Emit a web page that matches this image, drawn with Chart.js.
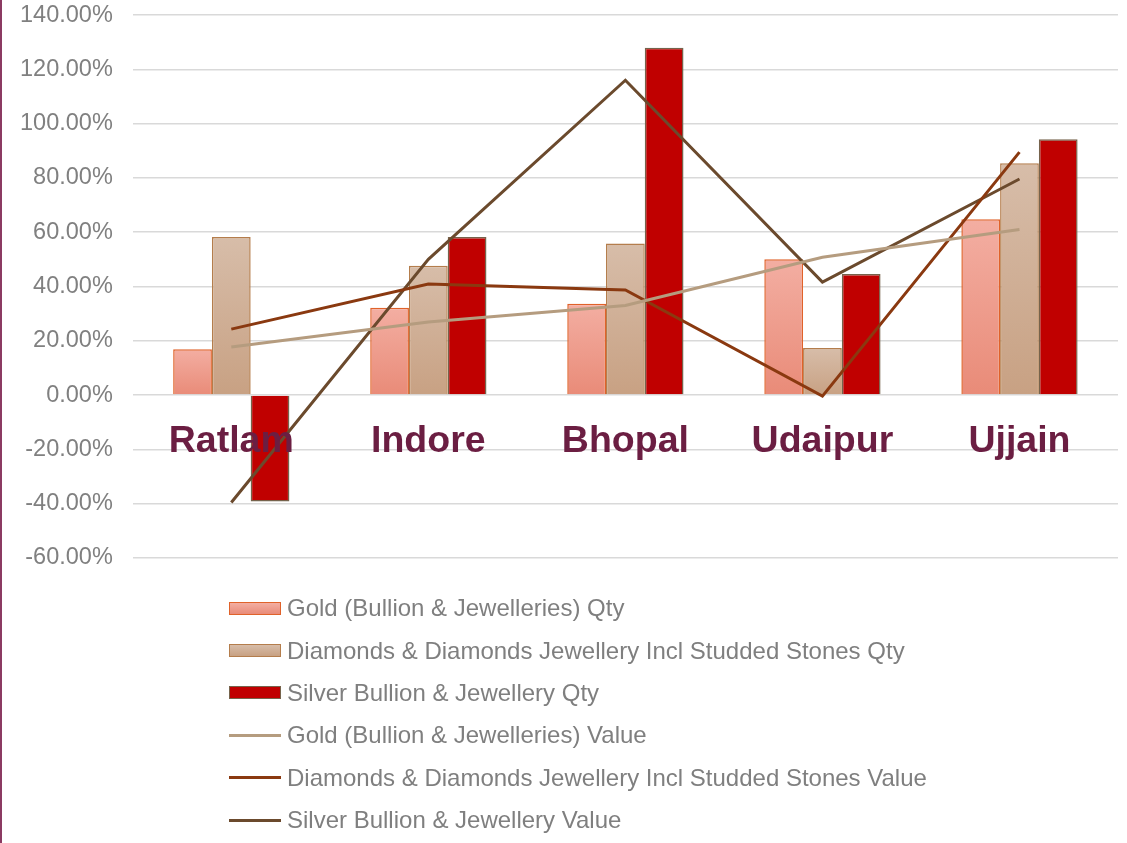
<!DOCTYPE html>
<html>
<head>
<meta charset="utf-8">
<script src="https://cdn.jsdelivr.net/npm/chart.js@4"></script>
<style>
  html, body { margin: 0; padding: 0; background: #fff; }
  body { width: 1127px; height: 843px; position: relative; overflow: hidden; font-family: "Liberation Sans", Arial, sans-serif; }
  .edge { position: absolute; left: 0; top: 0; width: 2px; height: 843px; background: #8B3A62; z-index: 2; }
  #wrap { position: absolute; left: 0; top: -19px; width: 1127px; height: 611px; }
  #legend { position: absolute; left: 229px; top: 587px; }
  .item { height: 42.4px; display: flex; align-items: center; color: #7f7f7f; font-size: 24px; white-space: nowrap; }
  .item .sw { width: 52px; margin-right: 6px; box-sizing: border-box; }
</style>
</head>
<body>
<div class="edge"></div>
<div id="wrap"><canvas id="grafico"></canvas></div>
<div id="legend"></div>
<script>
const cidades = ['Ratlam', 'Indore', 'Bhopal', 'Udaipur', 'Ujjain'];
const ticksY = [-60, -40, -20, 0, 20, 40, 60, 80, 100, 120, 140];

const ouroQtd = [16.9, 32.2, 33.6, 50.0, 64.8];
const diamanteQtd = [58.2, 47.6, 55.8, 17.3, 85.4];
const prataQtd = [-39.2, 58.2, 128.0, 44.6, 94.3];
const ouroValor = [17.7, 26.9, 33.0, 50.8, 61.0];
const diamanteValor = [24.3, 40.9, 38.7, -0.4, 89.5];
const prataValor = [-39.6, 50.0, 116.0, 41.6, 79.6];

// gradiente vertical por barra (claro em cima, mais escuro em baixo)
function gradiente(topo, base) {
    return function(context) {
        const chart = context.chart;
        if (!chart.chartArea || context.raw === undefined) return topo;
        const y = chart.scales.y;
        const y1 = y.getPixelForValue(Math.max(context.raw, 0));
        const y2 = y.getPixelForValue(Math.min(context.raw, 0));
        if (!isFinite(y1) || !isFinite(y2) || y1 === y2) return topo;
        const g = chart.ctx.createLinearGradient(0, y1, 0, y2);
        g.addColorStop(0, topo);
        g.addColorStop(1, base);
        return g;
    };
}

const ctx = document.getElementById('grafico').getContext('2d');
const grafico = new Chart(ctx, {
    type: 'bar',
    data: {
        labels: cidades,
        datasets: [
            {
                label: 'Gold (Bullion & Jewelleries) Qty',
                data: ouroQtd,
                backgroundColor: gradiente('#F3AEA2', '#E98B78'),
                borderColor: '#E0622A',
                borderWidth: 1.5,
                order: 2
            },
            {
                label: 'Diamonds & Diamonds Jewellery Incl Studded Stones Qty',
                data: diamanteQtd,
                backgroundColor: gradiente('#D7BDA9', '#C8A183'),
                borderColor: '#B47D4C',
                borderWidth: 1.5,
                order: 2
            },
            {
                label: 'Silver Bullion & Jewellery Qty',
                data: prataQtd,
                backgroundColor: '#C00000',
                borderColor: '#76634C',
                borderWidth: 1.5,
                order: 2
            },
            {
                type: 'line',
                label: 'Gold (Bullion & Jewelleries) Value',
                data: ouroValor,
                borderColor: '#B59C7F',
                borderWidth: 3,
                pointRadius: 0,
                tension: 0,
                order: 1
            },
            {
                type: 'line',
                label: 'Diamonds & Diamonds Jewellery Incl Studded Stones Value',
                data: diamanteValor,
                borderColor: '#8A3910',
                borderWidth: 3,
                pointRadius: 0,
                tension: 0,
                order: 1
            },
            {
                type: 'line',
                label: 'Silver Bullion & Jewellery Value',
                data: prataValor,
                borderColor: '#6B4A2D',
                borderWidth: 3,
                pointRadius: 0,
                tension: 0,
                order: 1
            }
        ]
    },
    options: {
        responsive: true,
        maintainAspectRatio: false,
        animation: false,
        layout: {
            padding: { top: 0, right: 9, left: 0, bottom: 31 }
        },
        datasets: {
            bar: {
                categoryPercentage: 0.59,
                barPercentage: 1
            }
        },
        scales: {
            x: {
                position: { y: 0 },
                grid: { display: false },
                border: { display: false },
                ticks: {
                    z: 1,
                    color: '#6B1E42',
                    font: { family: '"Liberation Sans", Arial, sans-serif', size: 37.5, weight: 'bold' },
                    padding: 16,
                    maxRotation: 0
                }
            },
            y: {
                min: -60,
                max: 140,
                afterBuildTicks: function(axis) {
                    axis.ticks = ticksY.map(v => ({ value: v }));
                },
                grid: { color: '#D9D9D9', lineWidth: 1.5, drawTicks: false },
                border: { display: false },
                ticks: {
                    color: '#808080',
                    padding: 20,
                    font: { family: '"Liberation Sans", Arial, sans-serif', size: 23.5 },
                    callback: v => v.toFixed(2) + '%'
                }
            }
        },
        plugins: {
            legend: { display: false },
            tooltip: { enabled: false }
        }
    }
});

// legenda vertical em HTML
const legenda = document.getElementById('legend');
grafico.data.datasets.forEach(function(ds, i) {
    const item = document.createElement('div');
    item.className = 'item';
    const sw = document.createElement('div');
    sw.className = 'sw';
    if (ds.type === 'line') {
        sw.style.height = '3px';
        sw.style.background = ds.borderColor;
    } else {
        sw.style.height = '13px';
        sw.style.border = '1.5px solid ' + ds.borderColor;
        sw.style.background = ['linear-gradient(#F3AEA2, #E98B78)', 'linear-gradient(#D7BDA9, #C8A183)', '#C00000'][i];
    }
    const txt = document.createElement('span');
    txt.textContent = ds.label;
    item.appendChild(sw);
    item.appendChild(txt);
    legenda.appendChild(item);
});
</script>
</body>
</html>
